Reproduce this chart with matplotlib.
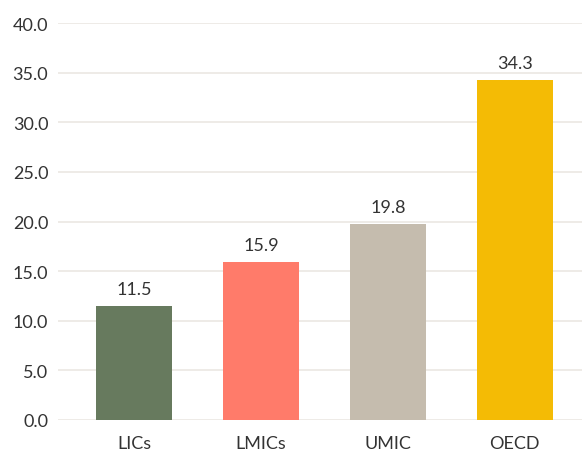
import matplotlib.pyplot as plt

categories = ['LICs', 'LMICs', 'UMIC', 'OECD']
values = [11.5, 15.9, 19.8, 34.3]
colors = ['#677a5e', '#ff7b6a', '#c5bcae', '#f4bb05']

plt.rcParams['font.family'] = ['Lato', 'DejaVu Sans']

fig = plt.figure(figsize=(5.82, 4.56), dpi=100)
ax = fig.add_axes([0.0997, 0.0768, 0.9003, 0.8702])

x = range(len(categories))
bars = ax.bar(x, values, width=0.6, color=colors, zorder=2)
for b, v in zip(bars, values):
    ax.text(b.get_x() + b.get_width() / 2, v + 0.9, f'{v:.1f}',
            ha='center', va='bottom', fontsize=13, color='#333333')

ax.set_ylim(0, 40)
ax.set_xlim(-0.6, 3.53)
ax.set_yticks(range(0, 41, 5))
ax.set_yticklabels([f'{t:.1f}' for t in range(0, 41, 5)])
ax.set_xticks(list(x))
ax.set_xticklabels(categories)
ax.grid(axis='y', color='#eeebe7', linewidth=1.4, zorder=0)
for s in ax.spines.values():
    s.set_visible(False)
ax.tick_params(axis='both', length=0, labelsize=13, colors='#333333')
ax.tick_params(axis='y', pad=7)
ax.tick_params(axis='x', pad=11)

fig.savefig('out.png', dpi=100)
